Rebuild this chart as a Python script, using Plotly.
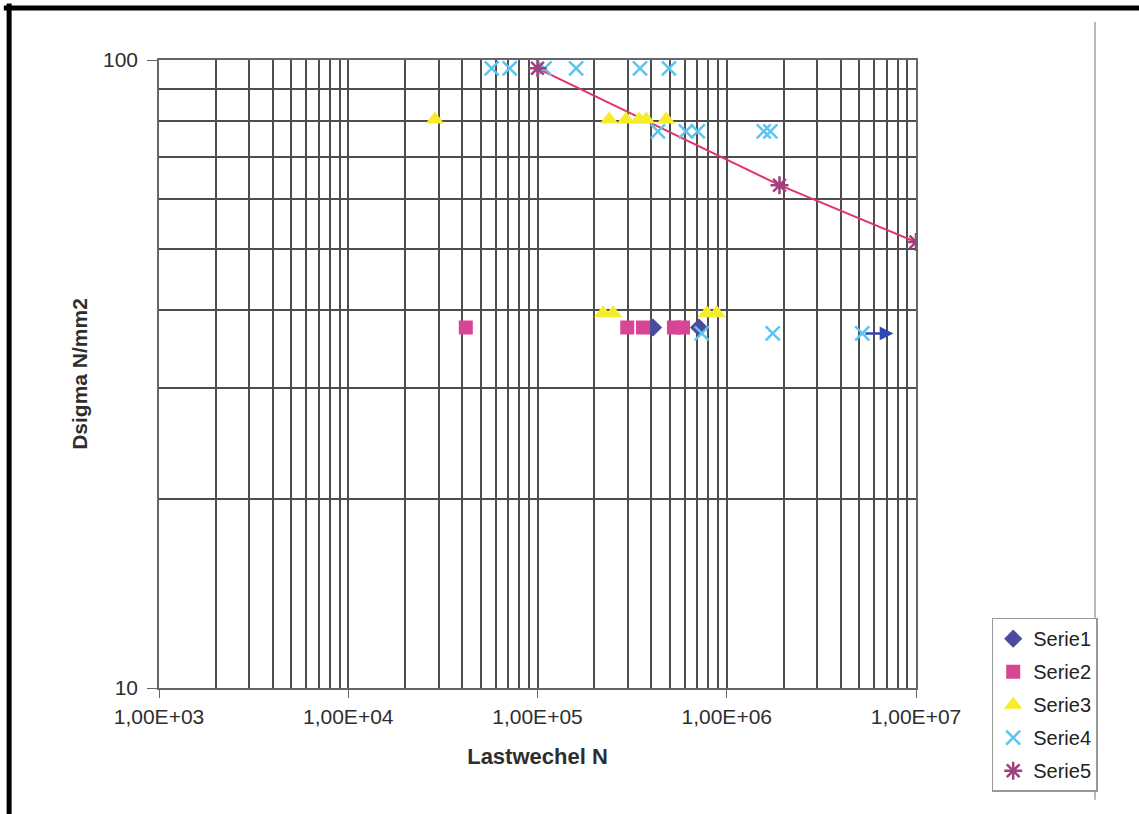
import math
import plotly.graph_objects as go

# Fatigue test results: load cycles N vs. stress range (N/mm2)
serie1_n = [4.08e5, 7.13e5]
serie1_s = [37.5, 37.5]

serie2_n = [4.18e4, 2.98e5, 3.61e5, 5.26e5, 5.87e5]
serie2_s = [37.5, 37.5, 37.5, 37.5, 37.5]

serie3_n = [2.87e4, 2.39e5, 2.94e5, 3.44e5, 3.75e5, 4.78e5,
            2.22e5, 2.51e5, 7.85e5, 8.86e5]
serie3_s = [80.4, 80.4, 80.4, 80.4, 80.4, 80.4,
            39.5, 39.5, 39.5, 39.5]

serie4_n = [5.73e4, 7.13e4, 1.09e5, 1.60e5, 3.48e5, 4.95e5,
            4.33e5, 6.08e5, 7.03e5, 1.57e6, 1.70e6,
            7.38e5, 1.75e6, 5.20e6]
serie4_s = [97, 97, 97, 97, 97, 97,
            77, 77, 77, 77, 77,
            36.7, 36.7, 36.7]

serie5_n = [1.0e5, 1.9e6, 1.0e7]
serie5_s = [97, 63.2, 51.3]

# Run-out arrow (test stopped without failure)
runout_from = [5.3e6, 36.7]
runout_to = [7.6e6, 36.7]

x_ticks = [1e3, 1e4, 1e5, 1e6, 1e7]
x_ticktext = ["1,00E+03", "1,00E+04", "1,00E+05", "1,00E+06", "1,00E+07"]
y_ticks = [10, 100]
y_ticktext = ["10", "100"]

x_minor = [m * 10 ** e for e in range(3, 7) for m in range(2, 10)]
y_minor = [m * 10 for m in range(2, 10)]

FONT = "Liberation Sans, Arial, sans-serif"
GRID = "#4e4e4e"
TEXT = "#2e2e2e"

fig = go.Figure()

fig.add_trace(go.Scatter(
    x=serie5_n, y=serie5_s, mode="lines",
    line=dict(color="#e2336e", width=2), showlegend=False, hoverinfo="skip"))

fig.add_trace(go.Scatter(
    x=serie1_n, y=serie1_s, mode="markers", name="Serie1", legendgroup="1",
    marker=dict(symbol="diamond", size=14, color="#4b4c9e")))
fig.add_trace(go.Scatter(
    x=serie2_n, y=serie2_s, mode="markers", name="Serie2", legendgroup="2",
    marker=dict(symbol="square", size=14, color="#d84594")))
fig.add_trace(go.Scatter(
    x=serie3_n, y=serie3_s, mode="markers", name="Serie3", legendgroup="3",
    marker=dict(symbol="triangle-up", size=16, color="#f7ec2c")))
fig.add_trace(go.Scatter(
    x=serie4_n, y=serie4_s, mode="markers", name="Serie4", legendgroup="4",
    marker=dict(symbol="x-thin-open", size=14, color="#5cc4ee",
                line=dict(width=2.5, color="#5cc4ee"))))
fig.add_trace(go.Scatter(
    x=serie5_n, y=serie5_s, mode="markers", name="Serie5", legendgroup="5",
    marker=dict(symbol="asterisk-open", size=15, color="#a0407f",
                line=dict(width=2.5, color="#a0407f"))))

fig.add_annotation(
    x=math.log10(runout_to[0]), y=math.log10(runout_to[1]),
    ax=math.log10(runout_from[0]), ay=math.log10(runout_from[1]),
    xref="x", yref="y", axref="x", ayref="y", text="",
    showarrow=True, arrowhead=2, arrowsize=1.1, arrowwidth=2.5,
    arrowcolor="#3346b0")

# Page frame lines
fig.add_shape(type="line", xref="paper", yref="paper",
              x0=-0.205, x1=1.3, y0=1.0828, y1=1.0828,
              line=dict(color="black", width=5))
fig.add_shape(type="line", xref="paper", yref="paper",
              x0=-0.198, x1=-0.198, y0=1.09, y1=-0.22,
              line=dict(color="black", width=5))
fig.add_shape(type="line", xref="paper", yref="paper",
              x0=1.2365, x1=1.2365, y0=1.0605, y1=-0.178,
              line=dict(color="#b8b8b8", width=2))

fig.update_xaxes(
    type="log", range=[3, 7],
    tickvals=x_ticks, ticktext=x_ticktext,
    tickfont=dict(family=FONT, size=21, color=TEXT),
    ticks="outside", ticklen=8, tickcolor="#666666",
    ticklabelstandoff=1,
    showgrid=True, gridcolor=GRID, gridwidth=1.5,
    minor=dict(tickvals=x_minor, showgrid=True, gridcolor=GRID,
               gridwidth=1.5, ticks=""),
    showline=True, linecolor="#666666", linewidth=1.5, mirror=True,
    zeroline=False,
    title=dict(text="<b>Lastwechel N</b>", standoff=22,
               font=dict(family=FONT, size=22, color=TEXT)))

fig.update_yaxes(
    type="log", range=[1, 2],
    tickvals=y_ticks, ticktext=y_ticktext,
    tickfont=dict(family=FONT, size=21, color=TEXT),
    ticks="outside", ticklen=10, tickcolor="#666666",
    ticklabelstandoff=5,
    showgrid=True, gridcolor=GRID, gridwidth=1.5,
    minor=dict(tickvals=y_minor, showgrid=True, gridcolor=GRID,
               gridwidth=1.5, ticks=""),
    showline=True, linecolor="#666666", linewidth=1.5, mirror=True,
    zeroline=False,
    title=dict(text="<b>Dsigma N/mm2</b>", standoff=10,
               font=dict(family=FONT, size=21, color=TEXT)))

fig.update_layout(
    width=1139, height=814,
    margin=dict(l=159, r=223, t=60, b=126),
    paper_bgcolor="white", plot_bgcolor="white",
    font=dict(family=FONT, color=TEXT),
    legend=dict(x=1.1, y=0.112, xanchor="left", yanchor="top",
                bordercolor="#999999", borderwidth=1.5,
                font=dict(family=FONT, size=20, color="#222222"),
                tracegroupgap=4, itemwidth=30),
)

fig.write_html("out.html")
